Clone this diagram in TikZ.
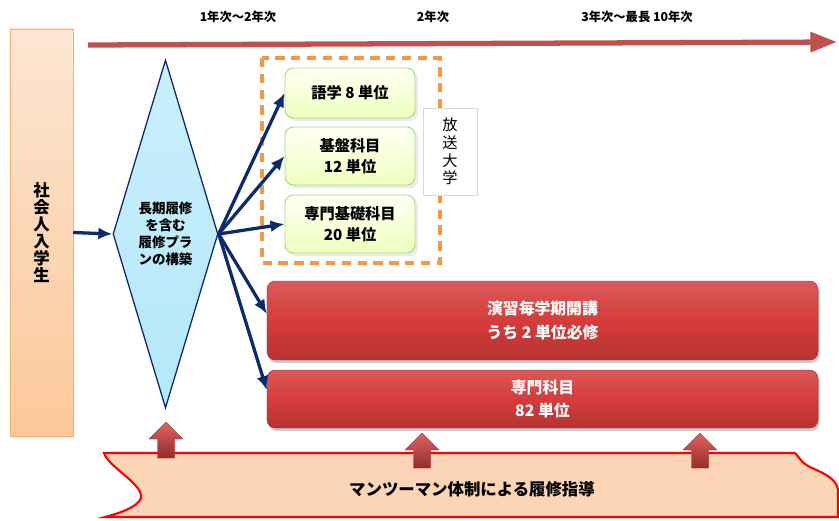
\documentclass[tikz,border=0pt]{standalone}
\usepackage{fontspec}
\setmainfont{Noto Sans CJK JP}
\usetikzlibrary{arrows.meta,shapes.geometric,shadows}

\definecolor{navy}{HTML}{0E2A6E}
\definecolor{timered}{HTML}{C0504D}
\definecolor{boxred}{HTML}{D63C3C}
\definecolor{peach}{HTML}{FBD5B5}
\definecolor{dashorange}{HTML}{F79646}
\definecolor{planblue}{HTML}{B4E8FA}

\tikzset{
  entrybox/.style={draw=orange!60!brown!60, top color=peach!60, bottom color=peach!85!orange,
    minimum width=1.89cm, minimum height=12.21cm, align=center,
    font=\bfseries\fontsize{14}{14.5}\selectfont},
  plannode/.style={diamond, draw=navy, line width=1.1pt, inner sep=0pt,
    top color=planblue!70, bottom color=planblue,
    minimum width=3.15cm, minimum height=10.44cm},
  plantext/.style={align=center, font=\bfseries\fontsize{11.5}{14.5}\selectfont},
  greenbox/.style={draw=green!45!olive!50, line width=0.8pt, rounded corners=0.25cm,
    top color=green!6!yellow!5, bottom color=green!25!yellow!25!white,
    minimum width=3.9cm, align=center, drop shadow={opacity=0.15},
    font=\bfseries\fontsize{13}{18}\selectfont},
  redbox/.style={draw=boxred!80!black, rounded corners=0.25cm,
    top color=boxred!85!white, bottom color=boxred!85!black, middle color=boxred,
    minimum width=16.53cm, align=center, text=white,
    drop shadow={opacity=0.4, shadow xshift=0.04cm, shadow yshift=-0.09cm},
    font=\bfseries\fontsize{13.5}{20}\selectfont},
  univbox/.style={draw=dashorange, line width=2.6pt, dash pattern=on 8pt off 5.5pt},
  univlabel/.style={draw=black!15, fill=white, minimum width=1.62cm, minimum height=2.61cm,
    align=center, font=\fontsize{13}{15}\selectfont},
  link/.style={navy, line width=2.8pt, -{Latex[length=4.2mm,width=3.6mm]}},
  timeline/.style={timered, line width=4.5pt, -{Triangle[length=0.8cm,width=0.58cm]}},
  yearlabel/.style={font=\bfseries\fontsize{10.5}{12}\selectfont},
  banner/.style={draw=red, line width=1.8pt, fill=peach},
  bannertext/.style={font=\bfseries\fontsize{14}{16}\selectfont},
  uparrow/.style={draw=boxred!70!black, line width=0.3pt, top color=boxred!80!white, bottom color=boxred!70!black}
}

\begin{document}
\begin{tikzpicture}[x=0.03cm,y=-0.03cm]
  \useasboundingbox (0,0) rectangle (839,520);
  %% Time line
  \coordinate (tl-start) at (88,45);
  \coordinate (tl-end) at (837,42);
  \draw[timeline] (tl-start) -- (tl-end);
  \node[yearlabel] (y1) at (238,17) {1年次～2年次};
  \node[yearlabel] (y2) at (433,17) {2年次};
  \node[yearlabel] (y3) at (637,17) {3年次～最長 10年次};
  %% Entry and plan
  \node[entrybox] (entry) at (41.5,232.5) {社\\会\\人\\入\\学\\生};
  \node[plannode] (plan) at (165.5,234) {};
  \node[plantext] (plantxt) at (plan) {長期履修\\を含む\\履修プラ\\ンの構築};
  %% University courses
  \draw[univbox] (262,58) rectangle (440,263);
  \node[greenbox, minimum height=1.5cm] (lang) at (350,93) {語学 8 単位};
  \node[greenbox, minimum height=1.74cm] (basic) at (350,156) {基盤科目\\12 単位};
  \node[greenbox, minimum height=1.74cm] (found) at (350,224) {専門基礎科目\\20 単位};
  \node[univlabel] (univ) at (450,151.5) {放\\送\\大\\学};
  %% Own courses
  \node[redbox, minimum height=2.37cm] (seminar) at (542.5,320.5) {演習毎学期開講\\うち 2 単位必修};
  \node[redbox, minimum height=1.74cm] (major) at (542.5,399) {専門科目\\82 単位};
  %% Links
  \draw[link] (entry.east) -- (plan.west);
  \foreach \t in {lang,basic,found}
    \draw[link] (plan.east) -- (\t.west);
  \draw[link] (plan.east) -- ([yshift=0.2cm]seminar.west);
  \draw[link] (plan.east) -- ([yshift=0.27cm]major.west);
  %% Guidance banner
  \draw[banner] (104,453) -- (795,453) .. controls (800,458) and (801,463) .. (812,468)
    .. controls (826,474) and (837,480) .. (838,490) -- (838,517) -- (105,517)
    .. controls (128,511) and (143,503) .. (141,495)
    .. controls (139,482) and (108,466) .. (104,453) -- cycle;
  \node[bannertext] (guide) at (472,489) {マンツーマン体制による履修指導};
  \foreach \ax/\ty/\by in {166/422/458, 422/433/468, 700/433/468}
    \draw[uparrow] (\ax,\ty) -- (\ax+17,\ty+17) -- (\ax+8.5,\ty+17) -- (\ax+8.5,\by)
      -- (\ax-8.5,\by) -- (\ax-8.5,\ty+17) -- (\ax-17,\ty+17) -- cycle;
\end{tikzpicture}
\end{document}
